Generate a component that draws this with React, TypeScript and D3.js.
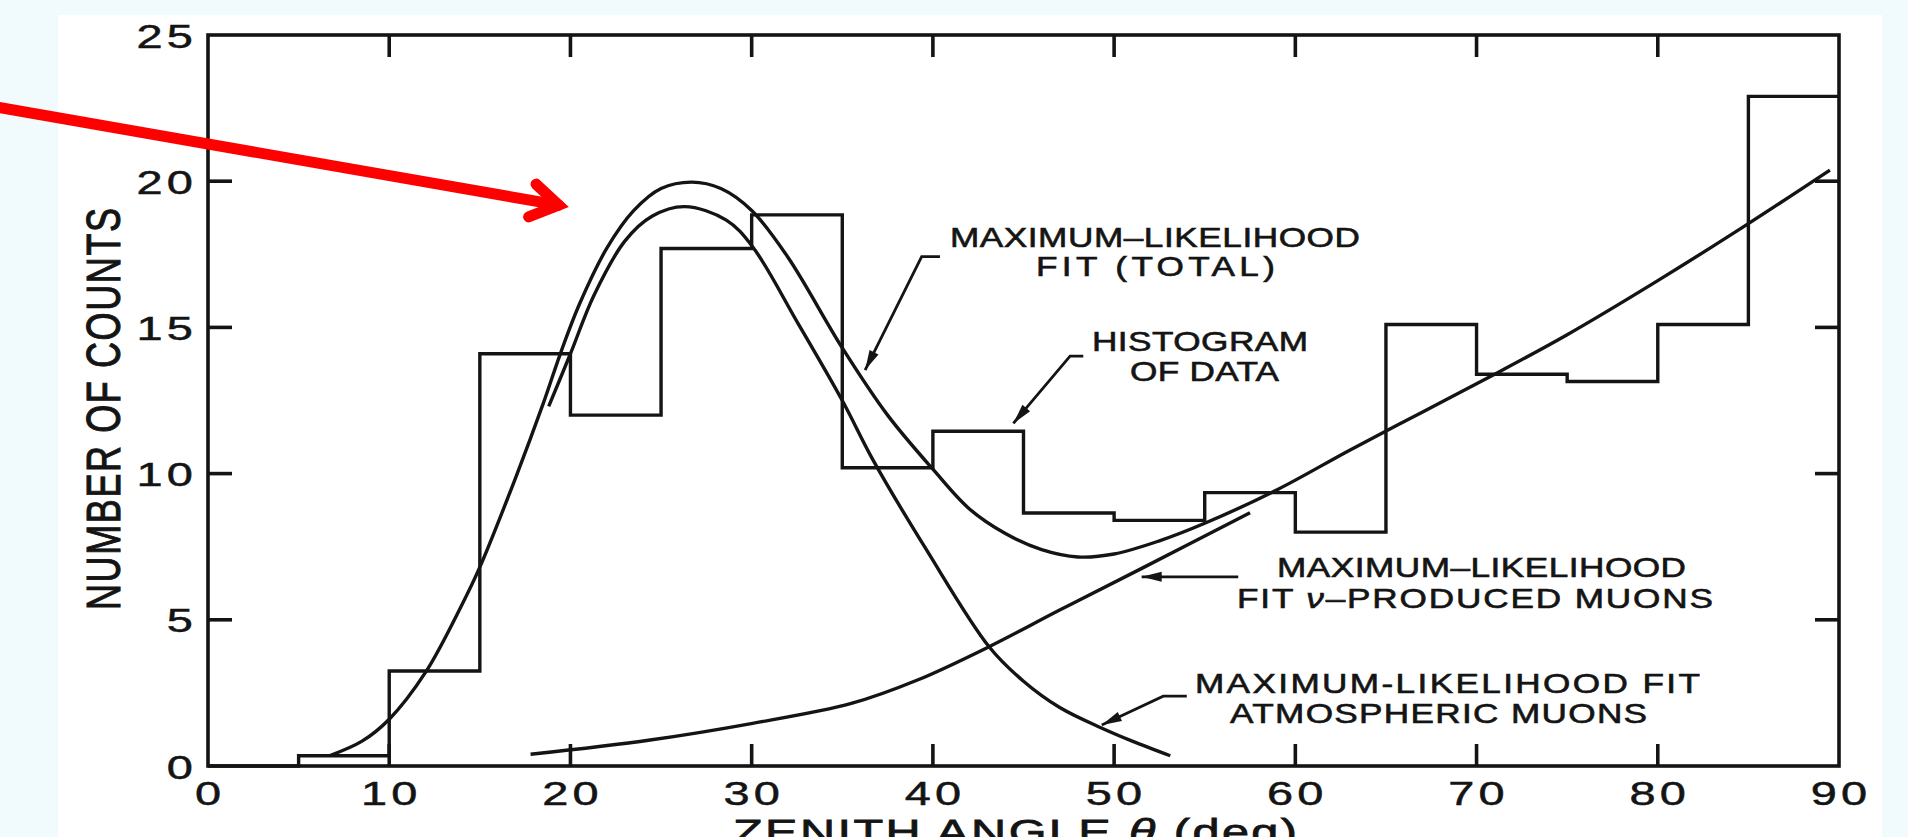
import * as d3 from 'd3';

const W = 1908, H = 837;

// histogram: left edge of each 5° bin and its count
const binEdges  = [0, 5, 10, 15, 20, 25, 30, 35, 40, 45, 50, 55, 60, 65, 70, 75, 80, 85];
const binCounts = [0, 0.35, 3.25, 14.1, 12.0, 17.7, 18.85, 10.2, 11.45, 8.65, 8.4, 9.35, 8.0, 15.1, 13.4, 13.15, 15.1, 22.9];

// fitted curves [angle, counts]
const totalFit: [number, number][] = [
  [6.7, 0.35], [8.5, 0.85], [10, 1.6], [12, 3.2], [14, 5.5], [15, 6.8], [17, 9.9], [18.5, 12.4],
  [19.5, 14.2], [20.5, 15.8], [22, 17.7], [23.5, 19.0], [25, 19.75], [26.7, 19.97], [28.3, 19.75],
  [30, 19.0], [32, 17.4], [35, 14.3], [37.5, 12.0], [40, 10.15], [42, 8.8], [44, 7.95], [46, 7.4],
  [48, 7.15], [50, 7.25], [52.5, 7.7], [55, 8.3], [59, 9.45], [63, 10.8], [67, 12.1], [71, 13.4],
  [75, 14.75], [80, 16.6], [85, 18.55], [89.5, 20.38],
];
const atmFit: [number, number][] = [
  [18.8, 12.3], [20, 14.1], [21.3, 16.1], [23, 17.95], [24.5, 18.8], [26.3, 19.13], [28.6, 18.67],
  [30.05, 17.76], [32.5, 15.2], [35, 12.5], [36.7, 10.46], [39.65, 7.39], [43.1, 4.08], [45, 2.9],
  [47, 2.0], [49.3, 1.3], [51, 0.85], [53.1, 0.35],
];
const nuFit: [number, number][] = [
  [17.8, 0.4], [24.4, 0.89], [30.05, 1.46], [35.5, 2.14], [39.15, 2.94], [43.1, 4.08], [47.05, 5.35],
  [51.5, 6.75], [57.5, 8.66],
];

const xTicks = [0, 10, 20, 30, 40, 50, 60, 70, 80, 90];
const yTicks = [0, 5, 10, 15, 20, 25];

// annotation text lines: text, left angle, baseline count, width px
const noteLines: [string, number, number, number][] = [
  ['MAXIMUM–LIKELIHOOD', 40.94, 17.75, 410],
  ['FIT (TOTAL)', 45.69, 16.76, 239],
  ['HISTOGRAM', 48.78, 14.19, 216],
  ['OF DATA', 50.88, 13.17, 149],
  ['MAXIMUM–LIKELIHOOD', 58.99, 6.46, 409],
  ['FIT ν–PRODUCED MUONS', 56.78, 5.4, 476],
  ['MAXIMUM-LIKELIHOOD FIT', 54.46, 2.5, 505],
  ['ATMOSPHERIC MUONS', 56.4, 1.47, 417],
];
// leader lines, last point is the arrow tip
const leaders: [number, number][][] = [
  [[40.39, 17.42], [39.38, 17.42], [36.26, 13.54]],
  [[48.30, 14.02], [47.57, 14.02], [44.44, 11.72]],
  [[56.85, 6.47], [51.52, 6.47]],
  [[54.01, 2.39], [52.71, 2.39], [49.32, 1.40]],
];
// red highlight arrow
const redShaft: [number, number][] = [[-12.0, 22.57], [19.35, 19.18]];
const redHead: [number, number][] = [[18.1, 19.9], [19.35, 19.18], [17.69, 18.78]];

const FONT = '"Liberation Sans", Arial, sans-serif';
const INK = '#141414';

export default function App() {
  const x = d3.scaleLinear().domain([0, 90]).range([208, 1839]);
  const y = d3.scaleLinear().domain([0, 25]).range([766, 35]);

  const line = d3.line<[number, number]>().x(d => x(d[0])).y(d => y(d[1]));
  const smooth = d3.line<[number, number]>().x(d => x(d[0])).y(d => y(d[1])).curve(d3.curveCatmullRom.alpha(0.5));
  const steps = d3.line<[number, number]>().x(d => x(d[0])).y(d => y(d[1])).curve(d3.curveStepAfter);

  const histPts: [number, number][] = binEdges.map((e, i) => [e, binCounts[i]]);
  histPts.push([90, binCounts[binCounts.length - 1]]);

  const head = (pts: [number, number][], len = 20, hw = 5) => {
    const a = pts[pts.length - 2], b = pts[pts.length - 1];
    const x0 = x(a[0]), y0 = y(a[1]), x1 = x(b[0]), y1 = y(b[1]);
    const L = Math.hypot(x1 - x0, y1 - y0), ux = (x1 - x0) / L, uy = (y1 - y0) / L;
    const bx = x1 - ux * len, by = y1 - uy * len;
    return `M${x1},${y1}L${bx - uy * hw},${by + ux * hw}L${bx + uy * hw},${by - ux * hw}Z`;
  };

  const TL = 22;
  const sxTick = 1.38, sxNote = 1.28, sxTitle = 1.35;
  const LW = 3.6;

  return (
    <svg width={W} height={H} style={{ position: 'absolute', left: 0, top: 0 }} fontFamily={FONT}>
      <rect width={W} height={H} fill="#f1fafd" />
      <rect x={58} y={15} width={1882 - 58} height={H} fill="#ffffff" />

      {/* frame + inner ticks */}
      <rect x={x(0)} y={y(25)} width={x(90) - x(0)} height={y(0) - y(25)} fill="none" stroke={INK} strokeWidth={LW} />
      {xTicks.slice(1, -1).map(v => (
        <g key={'xt' + v} stroke={INK} strokeWidth={LW}>
          <line x1={x(v)} x2={x(v)} y1={y(0)} y2={y(0) - TL} />
          <line x1={x(v)} x2={x(v)} y1={y(25)} y2={y(25) + TL} />
        </g>
      ))}
      {yTicks.slice(1, -1).map(v => (
        <g key={'yt' + v} stroke={INK} strokeWidth={LW}>
          <line x1={x(0)} x2={x(0) + 24} y1={y(v)} y2={y(v)} />
          <line x1={x(90)} x2={x(90) - 24} y1={y(v)} y2={y(v)} />
        </g>
      ))}

      {/* tick labels */}
      {xTicks.map(v => (
        <g key={'xl' + v} transform={`translate(${x(v) + 2},805) scale(${sxTick},1)`}>
          <text textAnchor="middle" fontSize={34} letterSpacing={3} fill={INK} stroke={INK} strokeWidth={0.5}>{String(v)}</text>
        </g>
      ))}
      {yTicks.map(v => (
        <g key={'yl' + v} transform={`translate(197,${y(v) + 12.5}) scale(${sxTick},1)`}>
          <text textAnchor="end" fontSize={34} letterSpacing={3} fill={INK} stroke={INK} strokeWidth={0.5}>{String(v)}</text>
        </g>
      ))}

      {/* axis titles */}
      <g transform={`translate(120,409) scale(${sxTitle},1) rotate(-90)`}>
        <text textAnchor="middle" fontSize={36} fill={INK} stroke={INK} strokeWidth={0.8}
          textLength={402} lengthAdjust="spacing">NUMBER OF COUNTS</text>
      </g>
      <g transform={`translate(733,844) scale(${sxTitle},1)`}>
        <text fontSize={36} fill={INK} stroke={INK} strokeWidth={0.8} textLength={564 / sxTitle} lengthAdjust="spacing">
          ZENITH ANGLE <tspan fontStyle="italic">θ</tspan> (deg)
        </text>
      </g>

      {/* histogram and fits */}
      <path d={steps(histPts) ?? ''} fill="none" stroke={INK} strokeWidth={3.4} strokeLinejoin="miter" />
      <path d={smooth(totalFit) ?? ''} fill="none" stroke={INK} strokeWidth={3.4} />
      <path d={smooth(atmFit) ?? ''} fill="none" stroke={INK} strokeWidth={3.4} />
      <path d={smooth(nuFit) ?? ''} fill="none" stroke={INK} strokeWidth={3.4} />

      {/* annotations */}
      {noteLines.map(([t, ax, ay, w], i) => {
        const parts = t.split('ν');
        return (
          <g key={'n' + i} transform={`translate(${x(ax)},${y(ay)}) scale(${sxNote},1)`}>
            <text fontSize={27.5} fill={INK} stroke={INK} strokeWidth={0.6} textLength={w / sxNote} lengthAdjust="spacing">
              {parts.length > 1
                ? <>{parts[0]}<tspan fontStyle="italic">ν</tspan>{parts[1]}</>
                : t}
            </text>
          </g>
        );
      })}
      {leaders.map((pts, i) => (
        <g key={'ld' + i}>
          <path d={line(pts) ?? ''} fill="none" stroke={INK} strokeWidth={2.8} />
          <path d={head(pts)} fill={INK} />
        </g>
      ))}

      {/* red pointer */}
      <path d={line(redShaft) ?? ''} fill="none" stroke="#ff0000" strokeWidth={11} strokeLinecap="round" />
      <path d={line(redHead) ?? ''} fill="none" stroke="#ff0000" strokeWidth={11} strokeLinecap="round" strokeLinejoin="miter" strokeMiterlimit={6} />
    </svg>
  );
}
